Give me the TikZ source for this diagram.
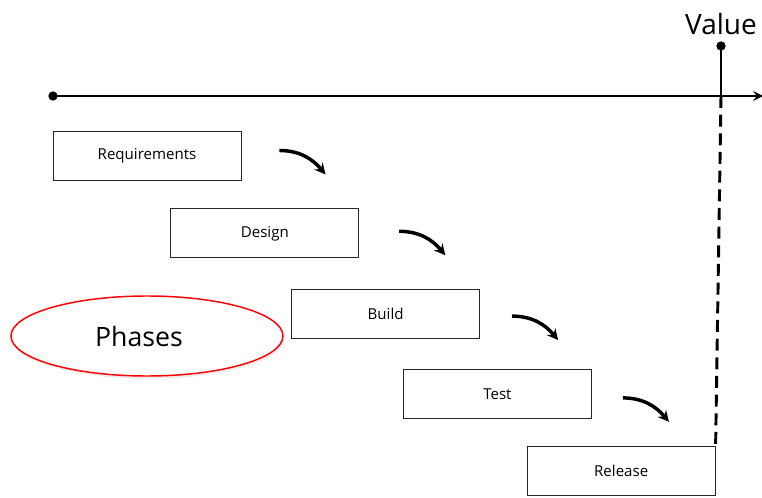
\documentclass[tikz,border=0pt]{standalone}
\usepackage{fontspec}
\setmainfont{Open Sans}
\usetikzlibrary{arrows,positioning,shapes.geometric,calc,shadows}

\begin{document}
\begin{tikzpicture}[
    x=0.75pt, y=-0.75pt,
    phase/.style={rectangle, draw=black!85, fill=white, line width=0.6pt, minimum width=141pt, minimum height=36.75pt, font=\fontsize{11.3}{13}\selectfont},
    flow/.style={line width=2.6pt, ->, >=stealth, shorten >=1pt},
    axis/.style={line width=2.2pt, ->, >=stealth},
    dot/.style={circle, fill=black, inner sep=0pt, minimum size=7pt}
]
\useasboundingbox (0,0) rectangle (762,498);

% phases, stepping down to the right
\node[phase] (req) at (147,155.5) {Requirements};
\node[phase, below right=21pt and -53.25pt of req] (design) {Design};
\node[phase, below right=23.25pt and -51pt of design] (build) {Build};
\node[phase, below right=22.5pt and -57.75pt of build] (test) {Test};
\node[phase, below right=20.25pt and -48.75pt of test] (release) {Release};

% time line and the value marker
\node[dot] (origin) at (53,96) {};
\coordinate (tip) at (763,96);
\coordinate (foot) at (721,96);
\node[dot] (value) at (721,46) {};
\node[font=\fontsize{21}{24}\selectfont, above=1pt of value] (valuelbl) {Value};
\draw[axis] (origin.center) -- (tip);
\draw[line width=2.2pt] (foot) -- (value.center);
\draw[line width=2.2pt, dash pattern=on 9pt off 5pt] (foot) -- (release.north east);

% hand-over arrows between phases
\foreach \a/\sx/\sy in {req/38/-5, design/40/-2, build/32/2, test/31/4}
    \draw[flow] ($(\a.east)+(\sx,\sy)$) to[out=0, in=130] ($(\a.east)+(\sx+47,\sy+25)$);

\node[ellipse, draw=red, line width=1.1pt, fill=white, minimum width=204pt, minimum height=60pt,
      drop shadow={opacity=0.15, shadow xshift=1pt, shadow yshift=-2pt}] (phases) at (147,336) {};
\node[font=\fontsize{20}{24}\selectfont] (phaseslbl) at (139,336) {Phases};
\end{tikzpicture}
\end{document}
